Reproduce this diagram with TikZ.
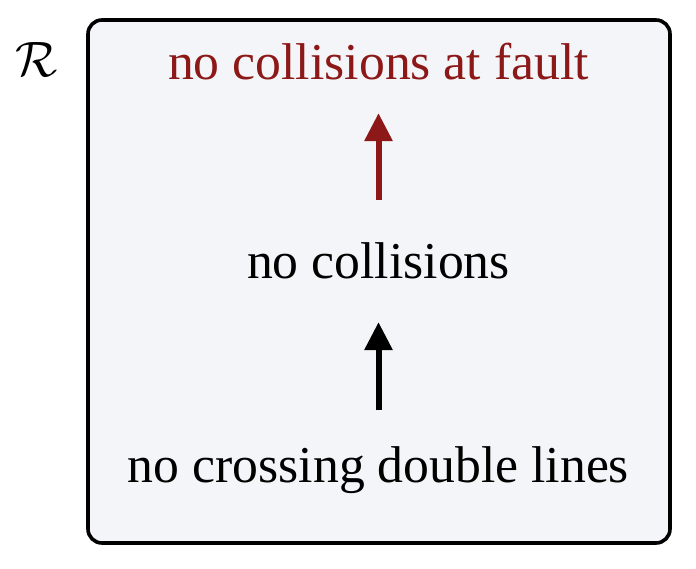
\documentclass[tikz,border=0pt]{standalone}
\usepackage{fontspec}
\setmainfont{Liberation Serif}
\usetikzlibrary{arrows.meta}
\definecolor{faultred}{RGB}{140,24,24}
\definecolor{boxfill}{RGB}{244,245,248}
\begin{document}
\begin{tikzpicture}[x=0.5pt,y=-0.5pt]
        \useasboundingbox (0,0) rectangle (696,568);
        % Draw frame
        \draw[line width=1.8pt,rounded corners=7pt,fill=boxfill] (88,20) rectangle (670,543);
        \node[anchor=base,inner sep=0] (rlab) at (36.5,76) {\fontsize{24}{29}\selectfont$\mathcal{R}$};

        % Draw nodes
        \tikzset{lbl/.style={anchor=base,inner sep=0,text height=18pt,text depth=5.7pt,font=\fontsize{25.85}{31}\selectfont}}
        \tikzset{uparrow/.style={line width=3pt,-{Triangle[length=14pt,width=13.5pt]}}}
        \node[lbl,text=faultred] (top) at (378.5,79.3) {no collisions at fault};
        \node[lbl] (mid) at (378.5,278.3) {no collisions};
        \node[lbl] (bot) at (378.5,482.7) {no crossing double lines};

        % Draw arrows
        \draw[uparrow,faultred,shorten <=21pt,shorten >=11pt] (mid.north) -- (top.south);
        \draw[uparrow,shorten <=18pt,shorten >=16pt] (bot.north) -- (mid.south);
    \end{tikzpicture}
\end{document}
